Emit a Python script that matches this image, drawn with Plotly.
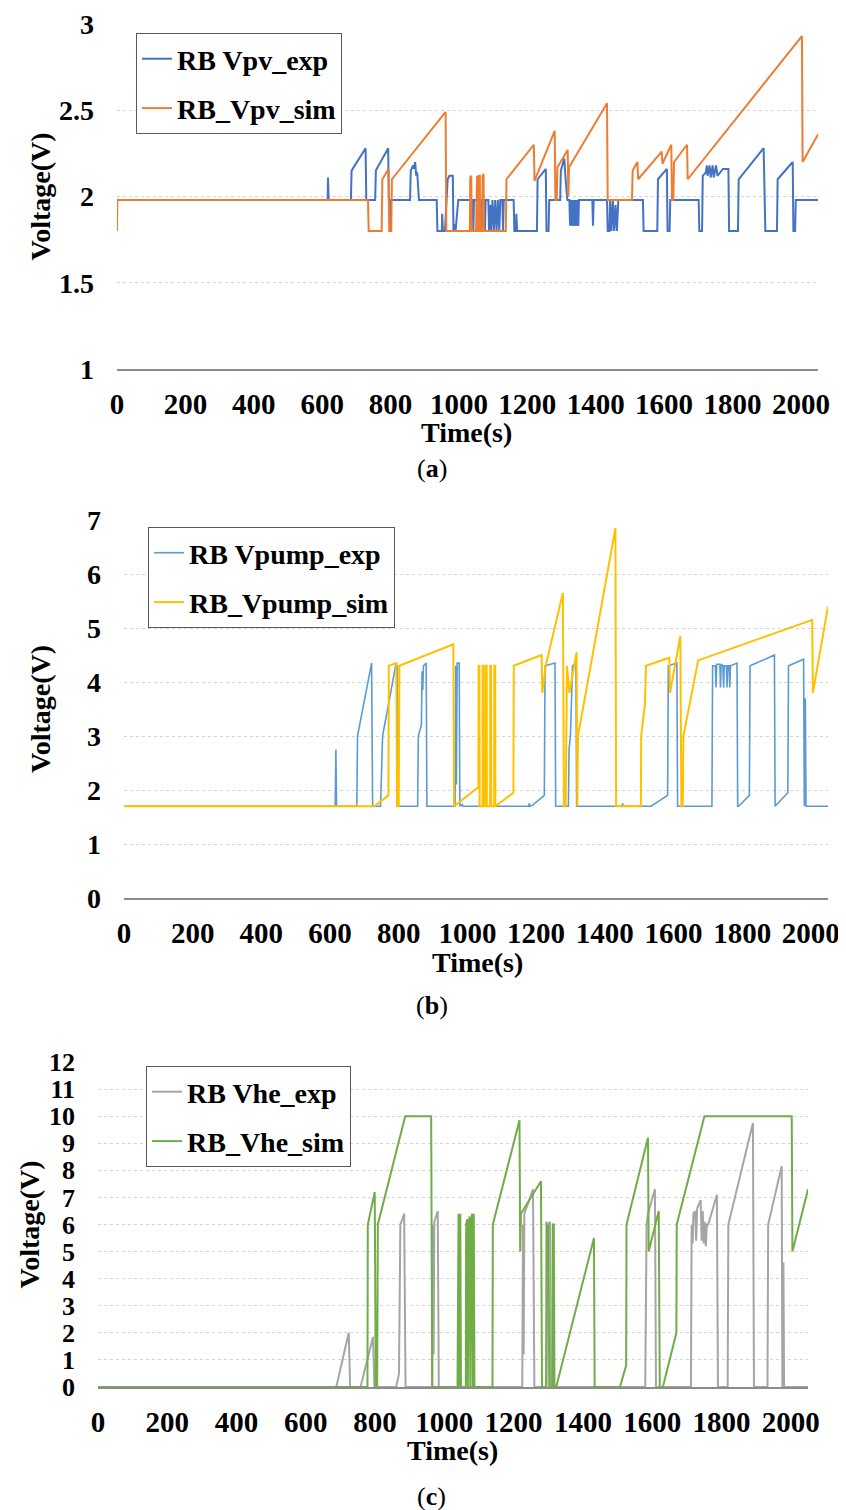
import plotly.graph_objects as go

# ---------------- data ----------------
# Panel (a): PV voltage
a_exp_t = [0, 616, 617, 619, 684, 686, 727, 729, 755, 757, 793, 795, 799, 801, 857, 859, 866, 868, 872, 875, 878, 883,
           935, 937, 950, 951, 953, 959, 967, 972, 982, 984, 988, 990, 998, 1040, 1042, 1044, 1052, 1054, 1056, 1062,
           1064, 1066, 1074, 1076, 1078, 1086, 1088, 1092, 1094, 1098, 1102, 1106, 1110, 1114, 1118, 1121, 1127, 1129,
           1131, 1160, 1162, 1166, 1168, 1170, 1228, 1230, 1254, 1256, 1262, 1264, 1296, 1298, 1305, 1308, 1312, 1317,
           1323, 1325, 1327, 1331, 1333, 1337, 1339, 1343, 1345, 1349, 1351, 1390, 1392, 1394, 1433, 1435, 1440, 1442,
           1446, 1450, 1454, 1458, 1462, 1466, 1538, 1540, 1580, 1582, 1608, 1610, 1616, 1618, 1701, 1703, 1711, 1713,
           1722, 1725, 1727, 1733, 1736, 1742, 1745, 1752, 1756, 1765, 1772, 1788, 1790, 1816, 1818, 1891, 1893, 1896,
           1930, 1932, 1976, 1978, 1983, 1985, 2050]
a_exp_v = [1.98, 1.98, 2.11, 1.98, 1.98, 2.15, 2.28, 1.98, 1.98, 2.15, 2.28, 1.98, 1.8, 1.98, 1.98, 2.15, 2.18, 2.16,
           2.2, 2.12, 2.14, 1.98, 1.98, 1.8, 1.8, 1.9, 1.8, 1.8, 2.1, 2.12, 2.12, 1.8, 1.84, 1.8, 1.98, 1.98, 1.8, 1.98,
           1.98, 1.8, 1.98, 1.98, 1.8, 1.98, 1.98, 1.8, 1.98, 1.98, 1.8, 1.95, 1.8, 1.98, 1.8, 1.98, 1.8, 1.98, 1.8,
           1.98, 1.98, 1.8, 1.98, 1.98, 1.8, 1.8, 1.9, 1.8, 1.8, 2.1, 2.16, 1.8, 1.8, 1.98, 1.98, 2.15, 2.2, 2.22, 2.1,
           1.98, 1.98, 1.83, 1.98, 1.83, 1.98, 1.83, 1.98, 1.83, 1.98, 1.83, 1.98, 1.98, 1.83, 1.98, 1.98, 1.8, 1.8,
           1.98, 1.8, 1.98, 1.8, 1.95, 1.8, 1.98, 1.98, 1.8, 1.8, 2.1, 2.16, 1.8, 1.8, 1.98, 1.98, 1.8, 1.8, 2.12,
           2.14, 2.18, 2.12, 2.18, 2.11, 2.18, 2.11, 2.18, 2.12, 2.14, 2.16, 2.16, 1.8, 1.8, 2.1, 2.28, 1.98, 1.8, 1.8,
           2.1, 2.2, 1.8, 1.8, 1.98, 1.98]
a_sim_t = [0, 1, 734, 736, 774, 776, 794, 796, 802, 804, 961, 963, 1032, 1033, 1036, 1037, 1050, 1051, 1053, 1054,
           1057, 1058, 1061, 1062, 1068, 1069, 1072, 1073, 1137, 1139, 1219, 1221, 1280,
           1282, 1286, 1288, 1318, 1320, 1322, 1433, 1435, 1506, 1508, 1522, 1524, 1593, 1595, 1621, 1623, 1627, 1629,
           1667, 1669, 2003, 2005, 2050]
a_sim_v = [1.8, 1.98, 1.98, 1.8, 1.8, 2.1, 2.16, 1.8, 1.8, 2.1, 2.49, 1.8, 1.8, 2.11, 2.12, 1.8, 1.8, 2.11, 2.12, 1.8,
           1.8, 2.12, 2.12, 1.8, 1.8, 2.12, 2.13, 1.8, 1.8, 2.1, 2.3, 2.09, 2.38, 1.98, 1.98,
           2.17, 2.27, 2.0, 2.17, 2.54, 1.98, 1.98, 2.15, 2.2, 2.1, 2.26, 2.19, 2.3, 1.98, 1.98, 2.2, 2.3, 2.1, 2.93,
           2.2, 2.36]

# Panel (b): pump voltage
b_exp_t = [0, 615, 617, 619, 678, 680, 721, 724, 747, 750, 753, 791, 796, 798, 855, 857, 866, 868, 870, 872, 880, 882,
           964, 966, 968, 970, 976, 978, 985, 987, 1178, 1180, 1182, 1190, 1224, 1226, 1255, 1257, 1294, 1296, 1300,
           1306, 1316, 1318, 1450, 1452, 1454, 1535, 1583, 1585, 1610, 1612, 1712, 1714, 1722, 1724, 1726, 1735, 1737,
           1739, 1744, 1746, 1748, 1754, 1756, 1758, 1762, 1764, 1766, 1785, 1787, 1790, 1821, 1823, 1894, 1896, 1933,
           1935, 1979, 1981, 1984, 1986, 2050]
b_exp_v = [1.7, 1.7, 2.75, 1.7, 1.7, 3.0, 4.35, 1.7, 1.7, 2.7, 3.0, 4.3, 4.3, 1.7, 1.7, 3.0, 3.2, 4.2, 3.85, 4.3,
           4.35, 1.7, 1.7, 4.3, 2.1, 4.35, 4.35, 1.7, 1.73, 1.7, 1.7, 1.75, 1.7, 1.72, 1.9, 4.3, 4.35, 1.7, 1.7, 2.75,
           3.0, 4.3, 4.35, 1.7, 1.7, 1.75, 1.7, 1.7, 1.9, 4.3, 4.35, 1.7, 1.7, 4.3, 4.3, 3.9, 4.33, 4.33, 3.9, 4.33,
           4.3, 3.9, 4.3, 4.3, 3.9, 4.3, 4.3, 3.9, 4.3, 4.35, 1.7, 1.7, 1.9, 4.3, 4.5, 1.7, 1.95, 4.3, 4.42, 1.7, 3.7,
           1.7, 1.7]
b_sim_t = [0, 729, 770, 771, 793, 795, 800, 802, 959, 961, 1032, 1032.5, 1035, 1035.5, 1044, 1044.5, 1047, 1047.5,
           1053, 1053.5, 1056, 1056.5, 1066, 1066.5, 1069, 1069.5, 1078, 1078.5, 1081, 1081.5,
           1134, 1135, 1216, 1218, 1228, 1278, 1281,
           1286, 1290, 1297, 1318, 1320, 1322, 1431, 1433, 1505, 1506, 1517, 1520, 1588, 1590, 1620, 1623, 1627, 1629,
           1668, 1672, 2004, 2006, 2050]
b_sim_v = [1.7, 1.7, 1.9, 4.3, 4.35, 1.7, 1.7, 4.3, 4.7, 1.7, 2.05, 4.3, 4.3, 1.7, 1.7, 4.3, 4.3, 1.7,
           1.7, 4.3, 4.3, 1.7, 1.7, 4.3, 4.3, 1.7, 1.7, 4.3, 4.3, 1.7,
           1.95, 4.3, 4.5, 3.8, 4.3, 5.65, 1.7, 1.7, 4.3, 3.8, 4.55,
           1.7, 3.0, 6.85, 1.7, 1.7, 3.0, 3.6, 4.3, 4.45, 3.8, 4.85, 1.7, 1.7, 3.0, 4.3, 4.4, 5.15, 3.8, 5.4]

# Panel (c): heater voltage
c_exp_t = [0, 688, 724, 728, 758, 794, 798, 861, 869, 871, 873, 879, 884, 888, 965, 967, 969, 971, 981, 984, 1225,
           1227, 1229, 1231, 1256, 1260, 1295, 1297, 1300, 1305, 1308, 1580, 1582, 1584, 1588, 1608, 1611, 1712, 1714,
           1717, 1719, 1724, 1727, 1730, 1740, 1743, 1746, 1749, 1752, 1755, 1758, 1762, 1787, 1790, 1818, 1820, 1891,
           1894, 1933, 1935, 1974, 1976, 1979, 1981, 2050]
c_exp_v = [0, 0, 2.0, 0, 0, 1.85, 0, 0, 0.5, 5.0, 6.0, 6.2, 6.4, 0, 0, 6.0, 1.2, 6.1, 6.5, 0, 0, 6.0, 1.2, 6.4, 7.3,
           0, 0, 5.0, 6.0, 6.1, 0, 0, 5.0, 6.0, 6.4, 7.3, 0, 0, 6.0, 5.3, 6.4, 6.5, 5.4, 6.6, 6.9, 5.4, 6.5, 5.3, 6.1,
           5.2, 6.0, 6.0, 7.1, 0, 0, 6.0, 9.75, 0, 0, 6.0, 8.15, 0, 4.6, 0, 0]
c_sim_t = [0, 778, 779, 799, 802, 806, 808, 887, 962, 965, 1038, 1039, 1041, 1043, 1045, 1046, 1048, 1062, 1063,
           1066, 1068, 1070, 1073, 1075, 1077, 1080, 1082, 1084, 1085, 1087, 1139, 1140, 1217, 1219, 1221, 1279, 1282,
           1294, 1295, 1298, 1300, 1303, 1312, 1313, 1316, 1318, 1323, 1432, 1434, 1507, 1525, 1526, 1588, 1590, 1619,
           1622, 1631, 1670, 1671, 1751, 2003, 2005, 2050]
c_sim_v = [0, 0, 6.0, 7.2, 0, 0, 6.0, 10, 10, 0, 0, 6.0, 6.4, 0, 6.0, 6.4, 0, 0, 6.0, 6.2, 0, 6.0, 6.3, 0, 6.0, 6.4,
           0, 6.0, 6.4, 0, 0, 6.0, 9.85, 5.0, 6.4, 7.6, 0, 0, 6.1, 5.0, 6.0, 0, 0, 6.0, 6.0, 0, 0, 5.5, 0, 0, 0.8, 6.0,
           9.2, 5.0, 6.5, 0, 0, 2.0, 6.0, 10, 10, 5.0, 7.3]

x_ticks = [0, 200, 400, 600, 800, 1000, 1200, 1400, 1600, 1800, 2000]
x_title = "Time(s)"
y_title = "Voltage(V)"
names = [("RB Vpv_exp", "RB_Vpv_sim"), ("RB Vpump_exp", "RB_Vpump_sim"), ("RB Vhe_exp", "RB_Vhe_sim")]
captions = ["a", "b", "c"]

# ---------------- layout helpers ----------------
# the page body has an 8px margin, so the figure is drawn 8px in from the top-left corner
OFF = 8
W, H = 846 - OFF, 1510 - OFF
FONT = "Liberation Serif"


def px(x):
    return (x - OFF) / W


def py(y):
    return 1 - (y - OFF) / H


panels = [
    dict(box=(117, 818, 24, 369), yr=[1, 3], dt=0.5, col=("#4472C4", "#ED7D31"), lw=(2, 2),
         leg=(136, 33), ytx=40, tx=(466, 432), cap=(432, 468), yfs=28),
    dict(box=(124, 828, 520, 898), yr=[0, 7], dt=1, col=("#5B9BD5", "#FFC000"), lw=(1.6, 2),
         leg=(148, 527), ytx=40, tx=(477, 962), cap=(432, 1005), yfs=28),
    dict(box=(98, 808, 1062, 1387), yr=[0, 12], dt=1, col=("#A5A5A5", "#70AD47"), lw=(2, 2),
         leg=(146, 1066), ytx=29, tx=(452, 1450), cap=(432, 1496), yfs=26),
]
series = [(a_exp_t, a_exp_v, a_sim_t, a_sim_v),
          (b_exp_t, b_exp_v, b_sim_t, b_sim_v),
          (c_exp_t, c_exp_v, c_sim_t, c_sim_v)]

fig = go.Figure()
layout = dict(width=W, height=H, margin=dict(l=0, r=0, t=0, b=0, autoexpand=False),
              paper_bgcolor="white", plot_bgcolor="white",
              font=dict(family=FONT, color="black", size=28, weight="bold"),
              annotations=[])

for i, (p, s) in enumerate(zip(panels, series)):
    k = "" if i == 0 else str(i + 1)
    xa, ya = "x" + k, "y" + k
    lg = "legend" + k
    et, ev, st, sv = s
    fig.add_trace(go.Scatter(x=et, y=ev, mode="lines", name=names[i][0],
                             line=dict(color=p["col"][0], width=p["lw"][0]),
                             xaxis=xa, yaxis=ya, legend=lg, legendgroup=f"g{i}e"))
    fig.add_trace(go.Scatter(x=st, y=sv, mode="lines", name=names[i][1],
                             line=dict(color=p["col"][1], width=p["lw"][1]),
                             xaxis=xa, yaxis=ya, legend=lg, legendgroup=f"g{i}s"))
    l, r, t, b = p["box"]
    layout["xaxis" + k] = dict(domain=[px(l), px(r)], anchor=ya, range=[0, 2050], automargin=False,
                               tickmode="array", tickvals=x_ticks, ticktext=[str(v) for v in x_ticks],
                               tickangle=0, showgrid=False, zeroline=False,
                               showline=True, linecolor="#8c8c8c", linewidth=1.6,
                               ticks="", ticklabelstandoff=8,
                               tickfont=dict(family=FONT, size=29, weight="bold", color="black"))
    layout["yaxis" + k] = dict(domain=[py(b), py(t)], anchor=xa, range=p["yr"], dtick=p["dt"], automargin=False,
                               tick0=0, showgrid=True, gridcolor="#d4d4d4", griddash="dot", gridwidth=1,
                               zeroline=False, showline=False, ticks="", ticklabelstandoff=22,
                               tickfont=dict(family=FONT, size=p["yfs"], weight="bold", color="black"))
    layout[lg] = dict(x=px(p["leg"][0]), y=py(p["leg"][1]), xanchor="left", yanchor="top",
                      bgcolor="white", bordercolor="#595959", borderwidth=1,
                      font=dict(family=FONT, size=28, weight="bold", color="black"),
                      itemwidth=30, tracegroupgap=10)
    layout["annotations"].append(dict(text=y_title, x=px(p["ytx"]), y=py((t + b) / 2), xref="paper", yref="paper",
                                      textangle=-90, showarrow=False, xanchor="center", yanchor="middle",
                                      font=dict(family=FONT, size=28, weight="bold", color="black")))
    layout["annotations"].append(dict(text=x_title, x=px(p["tx"][0]), y=py(p["tx"][1]), xref="paper", yref="paper",
                                      showarrow=False, xanchor="center", yanchor="middle",
                                      font=dict(family=FONT, size=28, weight="bold", color="black")))
    layout["annotations"].append(dict(text=f"(<b>{captions[i]}</b>)", x=px(p["cap"][0]), y=py(p["cap"][1]),
                                      xref="paper", yref="paper", showarrow=False,
                                      xanchor="center", yanchor="middle",
                                      font=dict(family=FONT, size=26, weight="normal", color="black")))

fig.update_layout(**layout)
fig.write_html("out.html")
